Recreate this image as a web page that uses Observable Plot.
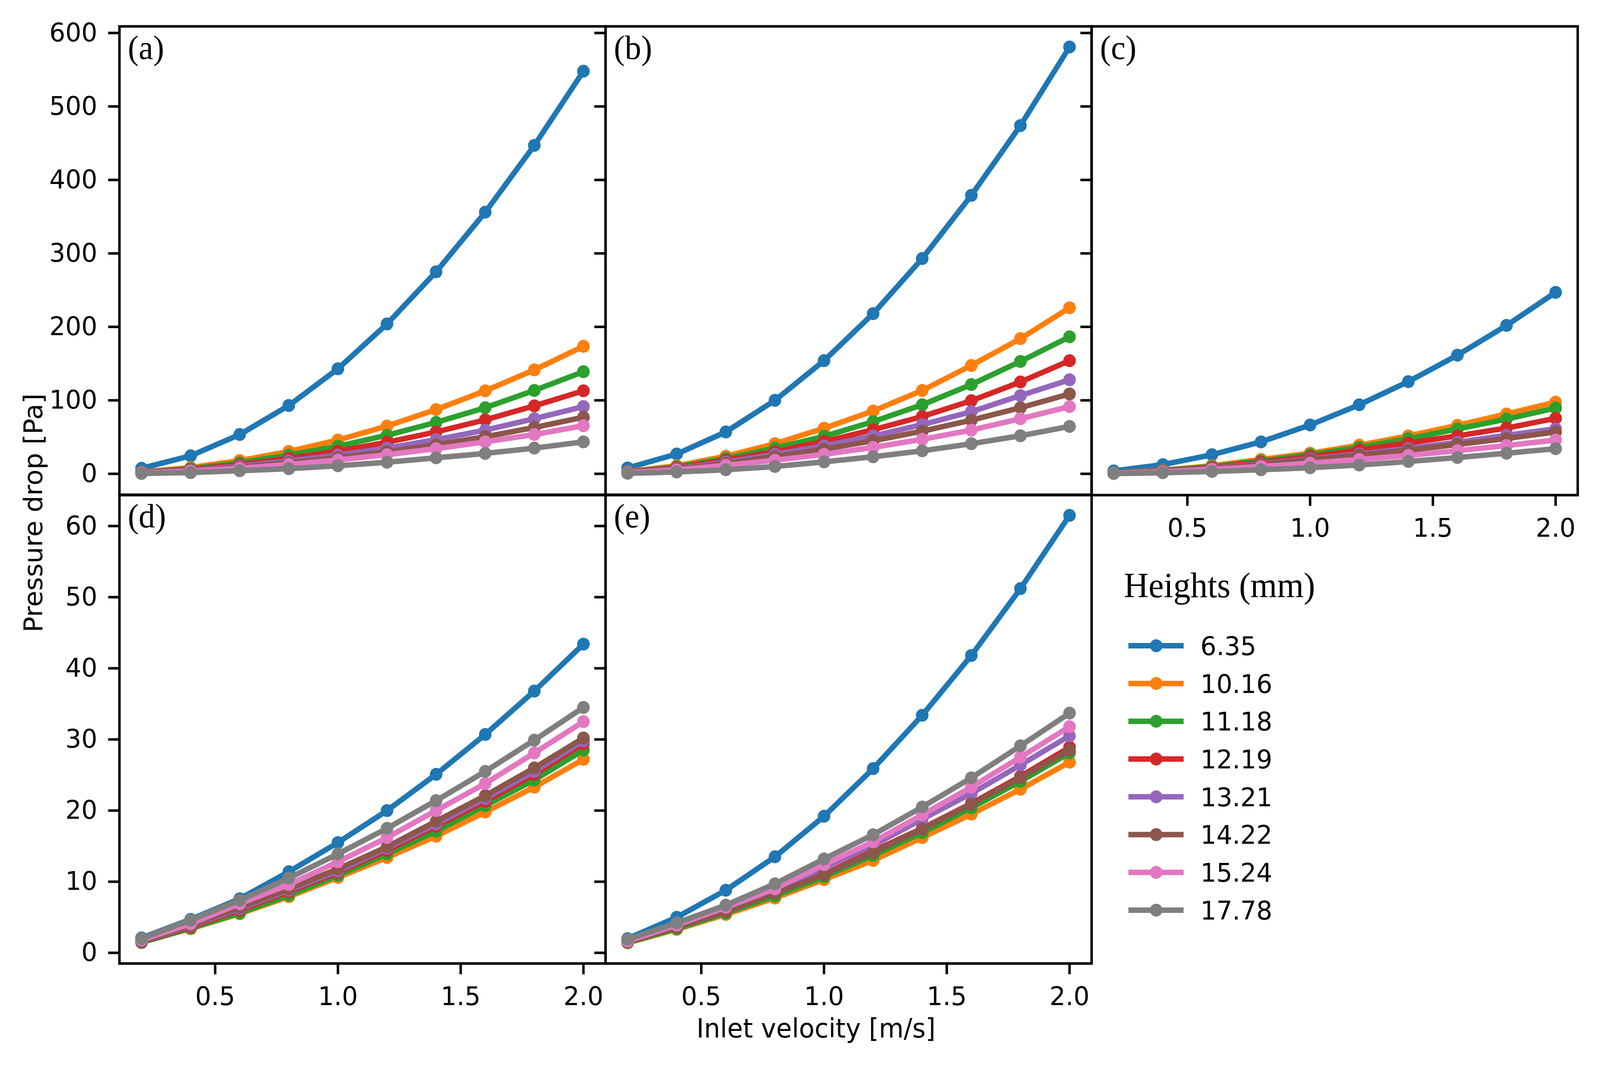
<!DOCTYPE html>
<html>
<head>
<meta charset="utf-8">
<script src="https://cdn.jsdelivr.net/npm/d3@7"></script>
<script src="https://cdn.jsdelivr.net/npm/@observablehq/plot@0.6"></script>
<style>
  html, body { margin: 0; padding: 0; background: #fff; overflow: hidden; }
  #fig { position: relative; width: 4200px; height: 2734px; background: #fff; overflow: hidden; transform-origin: 0 0; }
</style>
</head>
<body>
<div id="fig"></div>
<script>
// ---------------- data ----------------
const velocity = [0.2, 0.4, 0.6, 0.8, 1.0, 1.2, 1.4, 1.6, 1.8, 2.0];
const heights = ["6.35", "10.16", "11.18", "12.19", "13.21", "14.22", "15.24", "17.78"];
const colors = ["#1f77b4", "#ff7f0e", "#2ca02c", "#d62728", "#9467bd", "#8c564b", "#e377c2", "#7f7f7f"];

// rows follow `heights`, columns follow `velocity`
const panelA = [
  [7.5, 24.5, 53.5, 93, 143, 204, 275, 356, 447, 548],
  [2.5, 8.5, 18, 30.5, 46, 65, 87.5, 113, 141.5, 173.5],
  [2.2, 7, 15, 25.5, 37.5, 52.5, 70, 90, 113.5, 139],
  [2, 6, 12.5, 21, 31, 43, 57, 73.5, 92.5, 113],
  [1.7, 5, 10.5, 17.5, 25.5, 35, 46.5, 59.5, 75, 91.5],
  [1.5, 4.3, 9, 15, 22, 30, 39.5, 50.5, 63, 77],
  [1.2, 3.7, 7.6, 12.7, 18.8, 26, 34.3, 43.5, 53.5, 65.5],
  [0.5, 1.7, 4.2, 7, 11, 15.8, 21.8, 27.8, 35, 43.5]
];
const panelB = [
  [8, 27, 57, 100, 154, 218, 293, 379, 474, 581],
  [3, 11, 24, 41, 62, 85.5, 113.5, 147.5, 184, 226],
  [2.7, 9.5, 21, 35, 51, 71, 94, 121.5, 153, 186.5],
  [2.4, 8.5, 18.5, 30, 44, 60, 78, 99.5, 125, 154],
  [2.1, 7.3, 16, 26.5, 38, 51.5, 67, 84.5, 106.5, 128],
  [1.8, 6.5, 14, 23.5, 33.5, 45, 58, 73, 90, 108.7],
  [1.5, 5.3, 11.5, 18.5, 26.5, 36, 47, 59.5, 75, 91.5],
  [0.7, 2.5, 5.6, 10, 16.3, 23.2, 31.3, 41, 51.8, 64.5]
];
const panelC = [
  [4, 12.5, 26, 43.5, 66.5, 94, 125.5, 161.5, 202, 247],
  [1.5, 5, 11, 19.5, 28, 39, 51.6, 66, 81.5, 97.5],
  [1.4, 4.6, 10, 17.5, 26, 36, 47.8, 61, 74.5, 89.5],
  [1.2, 4, 8.7, 15.5, 23.3, 32.3, 42, 51.6, 62.3, 75.5],
  [1, 3.5, 7.7, 13.5, 20.5, 27, 34.5, 43, 52.5, 61.3],
  [0.9, 3.2, 7, 12.5, 19, 25.5, 32, 40, 48, 57],
  [0.8, 2.7, 6, 10, 14.5, 19.5, 25, 31.5, 38.5, 46],
  [0.4, 1.5, 3.2, 5.5, 8.3, 12, 16.8, 22.2, 28, 34.2]
];
const panelD = [
  [2.1, 4.7, 7.6, 11.4, 15.5, 20.0, 25.1, 30.7, 36.8, 43.4],
  [1.5, 3.4, 5.5, 7.9, 10.6, 13.4, 16.4, 19.8, 23.3, 27.2],
  [1.45, 3.45, 5.6, 8.1, 10.9, 13.9, 17.1, 20.7, 24.3, 28.5],
  [1.55, 3.65, 6.0, 8.6, 11.3, 14.4, 17.8, 21.3, 25.1, 29.4],
  [1.6, 3.8, 6.2, 8.8, 11.5, 14.7, 18.1, 21.7, 25.5, 29.8],
  [1.65, 3.9, 6.4, 9.0, 11.8, 14.9, 18.5, 22.1, 26.0, 30.2],
  [1.8, 4.1, 6.9, 9.6, 12.8, 16.2, 20.0, 23.8, 28.1, 32.5],
  [2.0, 4.6, 7.4, 10.5, 13.9, 17.5, 21.4, 25.5, 29.9, 34.5]
];
const panelE = [
  [2.0, 5.0, 8.8, 13.5, 19.2, 25.9, 33.4, 41.8, 51.2, 61.5],
  [1.4, 3.3, 5.4, 7.7, 10.3, 13.0, 16.2, 19.5, 23.0, 26.8],
  [1.45, 3.4, 5.6, 8.0, 10.7, 13.7, 16.9, 20.4, 24.1, 28.1],
  [1.55, 3.6, 5.9, 8.4, 11.1, 14.3, 17.5, 21.0, 24.8, 28.9],
  [1.6, 3.8, 6.2, 8.8, 12.0, 15.1, 18.8, 22.4, 26.4, 30.5],
  [1.5, 3.6, 5.8, 8.4, 11.0, 14.1, 17.4, 20.9, 24.6, 28.5],
  [1.65, 3.9, 6.4, 9.0, 12.4, 15.6, 19.4, 23.3, 27.5, 31.8],
  [1.9, 4.2, 6.7, 9.7, 13.2, 16.6, 20.5, 24.6, 29.1, 33.7]
];

const panelLabels = ["(a)", "(b)", "(c)", "(d)", "(e)"];
const topTicks = [0, 100, 200, 300, 400, 500, 600];
const bottomTicks = [0, 10, 20, 30, 40, 50, 60];
const xTicks = [0.5, 1.0, 1.5, 2.0];
const xLabel = "Inlet velocity [m/s]";
const yLabel = "Pressure drop [Pa]";
const legendTitle = "Heights (mm)";

// ---------------- layout ----------------
const colLeft = [313, 1589, 2865];
const rowTop = [67, 1266];
const panelW = 1276, panelH = 1200;
const mL = 200, mR = 20, mT = 20, mB = 170;
const xDomain = [0.11, 2.09];
const topDomain = [-29, 609];
const bottomDomain = [-1.5, 64.4];

const fig = document.getElementById("fig");

// the browser may give a viewport narrower than 4200 px: fit the figure to it
const sx = Math.min(1, window.innerWidth / 4200);
const sy = Math.min(1, window.innerHeight / 2734);
if (sx < 1 || sy < 1) fig.style.transform = `scale(${sx}, ${sy})`;

function makePanel(rows, label, col, row, yTicks, yDomain, showYLabels, showX) {
  const data = rows.flatMap((vals, i) =>
    vals.map((p, j) => ({v: velocity[j], p, h: heights[i]})));
  const seriesMarks = heights.flatMap((h, i) => {
    const d = data.filter(r => r.h === h);
    return [
      Plot.line(d, {x: "v", y: "p", stroke: colors[i], strokeWidth: 14, strokeLinejoin: "round", strokeLinecap: "butt"}),
      Plot.dot(d, {x: "v", y: "p", r: 16.5, fill: colors[i], stroke: null})
    ];
  });
  const marks = [
    ...seriesMarks,
    Plot.text([label], {text: d => d, frameAnchor: "top-left", dx: 22, dy: 22, lineAnchor: "top",
      textAnchor: "start", fontFamily: "Liberation Serif", fontSize: 86, fill: "black"}),
    Plot.frame({stroke: "black", strokeWidth: 6.5}),
    Plot.axisY({ticks: yTicks, tickSize: 29, tickPadding: 29, strokeWidth: 6.5, fontSize: 66,
      label: null, tickFormat: showYLabels ? (d => String(d)) : (() => "")})
  ];
  if (showX) {
    marks.push(Plot.axisX({ticks: xTicks, tickSize: 28, tickPadding: 32, strokeWidth: 6.5,
      fontSize: 66, label: null, tickFormat: d3.format(".1f")}));
  }
  const svg = Plot.plot({
    width: panelW + mL + mR,
    height: panelH + mT + mB,
    marginLeft: mL, marginRight: mR, marginTop: mT, marginBottom: mB,
    x: {domain: xDomain, label: null, axis: showX ? undefined : null},
    y: {domain: yDomain, label: null},
    style: {background: "transparent", overflow: "visible", fontFamily: "DejaVu Sans", fontSize: "66px", color: "black"},
    marks
  });
  svg.style.position = "absolute";
  svg.style.left = (colLeft[col] - mL) + "px";
  svg.style.top = (rowTop[row] - mT) + "px";
  svg.style.maxWidth = "none";
  fig.appendChild(svg);
}

makePanel(panelA, panelLabels[0], 0, 0, topTicks, topDomain, true, false);
makePanel(panelB, panelLabels[1], 1, 0, topTicks, topDomain, false, false);
makePanel(panelC, panelLabels[2], 2, 0, topTicks, topDomain, false, true);
makePanel(panelD, panelLabels[3], 0, 1, bottomTicks, bottomDomain, true, true);
makePanel(panelE, panelLabels[4], 1, 1, bottomTicks, bottomDomain, false, true);

// ---------------- labels and legend overlay ----------------
const overlay = d3.select(fig).append("svg")
  .attr("width", 4200).attr("height", 2734)
  .style("position", "absolute").style("left", "0px").style("top", "0px")
  .style("overflow", "visible");

overlay.append("text")
  .attr("x", 2142).attr("y", 2656)
  .attr("text-anchor", "middle")
  .attr("font-family", "DejaVu Sans").attr("font-size", 67)
  .attr("fill", "black")
  .text(xLabel);

overlay.append("text")
  .attr("transform", "translate(111,1313) rotate(-90)")
  .attr("text-anchor", "middle")
  .attr("font-family", "DejaVu Sans").attr("font-size", 67)
  .attr("fill", "black")
  .text(yLabel);

overlay.append("text")
  .attr("x", 2950).attr("y", 1529)
  .attr("font-family", "Liberation Serif").attr("font-size", 90)
  .attr("fill", "black")
  .text(legendTitle);

const legendRow0 = 1653, legendStep = 96.7;
heights.forEach((h, i) => {
  const y = legendRow0 + i * legendStep;
  const g = overlay.append("g");
  g.append("line").attr("x1", 2962).attr("x2", 3107).attr("y1", y).attr("y2", y)
    .attr("stroke", colors[i]).attr("stroke-width", 14);
  g.append("circle").attr("cx", 3035).attr("cy", y).attr("r", 16.5).attr("fill", colors[i]);
  g.append("text").attr("x", 3151).attr("y", y + 24)
    .attr("font-family", "DejaVu Sans").attr("font-size", 66).attr("fill", "black")
    .text(h);
});
</script>
</body>
</html>
